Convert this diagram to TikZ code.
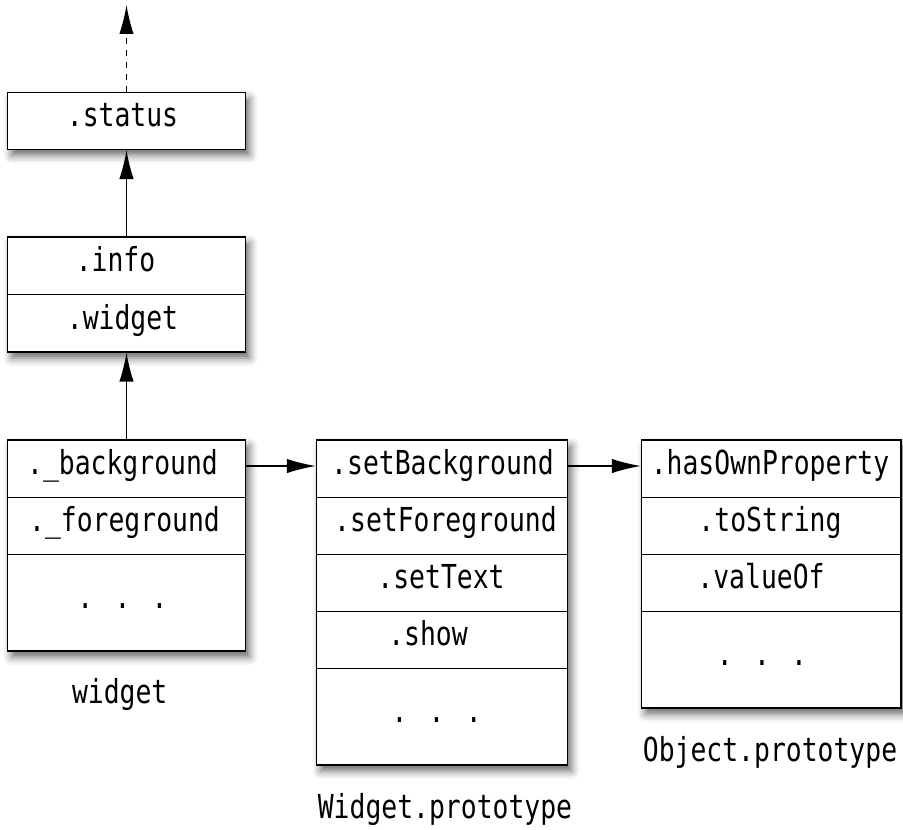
\documentclass[tikz,border=0pt]{standalone}
\usepackage{fontspec}
\newfontfamily\codefont[FakeStretch=0.8]{DejaVu Sans Mono}
\usetikzlibrary{arrows.meta}
\usetikzlibrary{positioning}
\usetikzlibrary{shadows.blur}
\tikzset{objbox/.style = {draw, line width = 0.7pt, fill = white, inner sep = 0,
    blur shadow = {shadow xshift = 2pt, shadow yshift = -3pt, shadow blur radius = 4pt, shadow opacity = 60}}}
\tikzset{prop/.style = {font = \codefont\fontsize{16.5}{19}\selectfont, text height = 0.73em, text depth = 0.24em, inner sep = 0}}
\tikzset{link/.style = {line width = 0.65pt, -{Latex[length = 14.5pt, width = 7.2pt]}}}
\tikzset{sep/.style = {line width = 0.5pt}}

\begin{document}
\begin{tikzpicture}[x = 0.5pt, y = -0.5pt]
      \useasboundingbox (0, 0) rectangle (903, 829);

      \node [objbox, minimum width = 119pt, minimum height = 28.3pt] (status) at (126.5, 121) {};
      \node [objbox, minimum width = 119pt, minimum height = 57.4pt] (info) at (126.5, 294.5) {};
      \node [objbox, minimum width = 119pt, minimum height = 105.5pt] (widget) at (126.5, 545.5) {};
      \node [objbox, minimum width = 125.5pt, minimum height = 162.5pt] (wproto) at (442, 602.5) {};
      \node [objbox, minimum width = 129.75pt, minimum height = 134pt] (oproto) at (771.25, 574) {};

      \draw [sep] (info.west |- 0, 294.5) -- (info.east |- 0, 294.5);
      \foreach \y in {497, 554} {
        \draw [sep] (widget.west |- 0, \y) -- (widget.east |- 0, \y);
      }
      \foreach \y in {497, 554, 611, 668} {
        \draw [sep] (wproto.west |- 0, \y) -- (wproto.east |- 0, \y);
      }
      \foreach \y in {497, 554, 611} {
        \draw [sep] (oproto.west |- 0, \y) -- (oproto.east |- 0, \y);
      }

      \node [prop] (st) at (122.5, 122) {.status};
      \node [prop] (inf) at (115.5, 267) {.info};
      \node [prop] (wdg) at (122.5, 324.5) {.widget};

      \node [prop] (bg) at (122.5, 469.5) {.\_background};
      \node [prop] (fg) at (124.5, 526.5) {.\_foreground};
      \node [prop] (wdots) at (122.5, 603.5) {. . .};

      \node [prop] (setbg) at (442.5, 469.5) {.setBackground};
      \node [prop] (setfg) at (445.5, 526.5) {.setForeground};
      \node [prop] (settext) at (441, 583.5) {.setText};
      \node [prop] (show) at (428, 640.5) {.show};
      \node [prop] (wpdots) at (436.7, 717.5) {. . .};

      \node [prop] (hasown) at (770, 469.5) {.hasOwnProperty};
      \node [prop] (tostr) at (770, 526.5) {.toString};
      \node [prop] (valof) at (761, 583.5) {.valueOf};
      \node [prop] (opdots) at (762, 661) {. . .};

      \node [prop] (lwidget) at (119.7, 698.7) {widget};
      \node [prop] (lwproto) at (445, 813.7) {Widget.prototype};
      \node [prop] (loproto) at (770, 757) {Object.prototype};

      \coordinate (up) at (126.5, 5);
      \draw [link, dashed] (status) -- (up);
      \draw [link] (info) -- (status);
      \draw [link] (widget) -- (info);
      \draw [link] (widget.east |- 0, 466) -- (wproto.west |- 0, 466);
      \draw [link] (wproto.east |- 0, 466) -- (oproto.west |- 0, 466);
    \end{tikzpicture}
\end{document}
